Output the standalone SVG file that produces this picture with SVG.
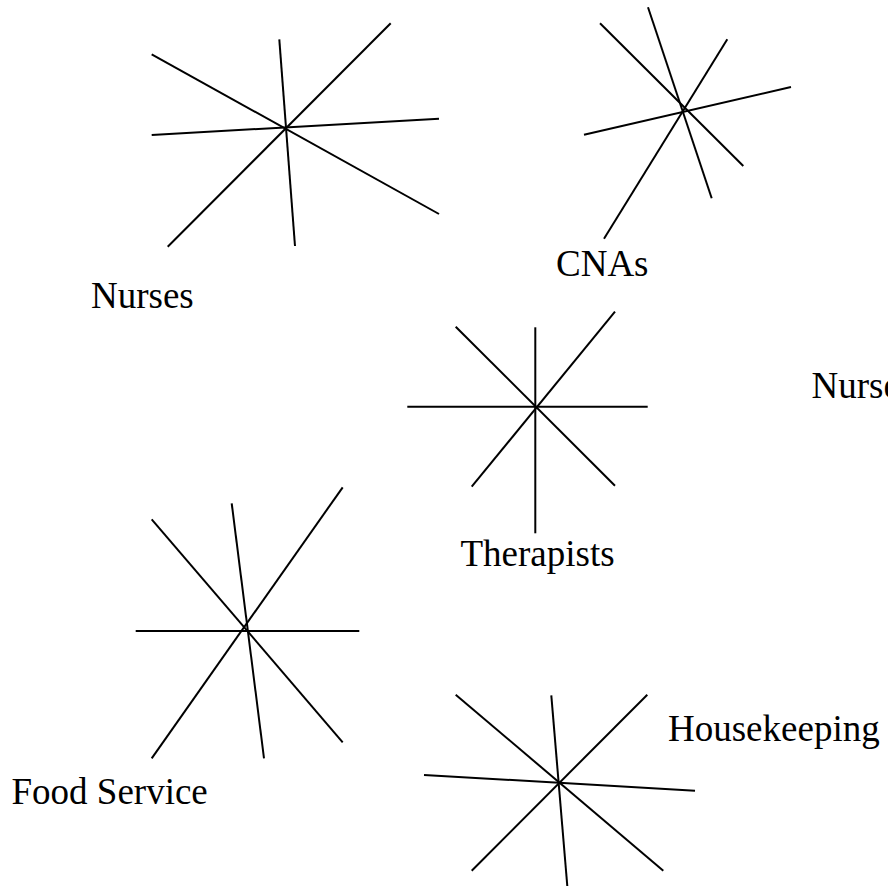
<svg xmlns="http://www.w3.org/2000/svg" width="888" height="887" viewBox="0 0 888 887">
<style>
.ray{stroke:#000;stroke-width:2;fill:none;stroke-linecap:butt}
text{font-family:'Liberation Serif','Times New Roman',serif;font-size:37px;fill:#000}
</style>
<rect width="888" height="887" fill="#fff"/>
<g id="connectors">
<g id="star-nurses">
<line class="ray" x1="151.7" y1="54.3" x2="439" y2="214"/>
<line class="ray" x1="151.7" y1="135" x2="439" y2="118.7"/>
<line class="ray" x1="167.7" y1="246.7" x2="390.7" y2="23.3"/>
<line class="ray" x1="279.3" y1="39.3" x2="295" y2="246"/>
</g>
<g id="star-cnas">
<line class="ray" x1="600" y1="23.3" x2="743.3" y2="166"/>
<line class="ray" x1="648" y1="7.3" x2="711.7" y2="198.3"/>
<line class="ray" x1="727.3" y1="39.3" x2="604" y2="238.7"/>
<line class="ray" x1="584" y1="134.7" x2="791" y2="87"/>
</g>
<g id="star-therapists">
<line class="ray" x1="407.3" y1="406.7" x2="647.7" y2="406.7"/>
<line class="ray" x1="535.3" y1="327.3" x2="535.3" y2="533.3"/>
<line class="ray" x1="455.7" y1="326.7" x2="615" y2="485.7"/>
<line class="ray" x1="615" y1="311.7" x2="471.7" y2="486.7"/>
</g>
<g id="star-food">
<line class="ray" x1="135.7" y1="631" x2="359.3" y2="631"/>
<line class="ray" x1="231.7" y1="503.3" x2="264" y2="758.3"/>
<line class="ray" x1="151.7" y1="519.3" x2="342.7" y2="742.3"/>
<line class="ray" x1="342.7" y1="487.3" x2="151.7" y2="758.3"/>
</g>
<g id="star-housekeeping">
<line class="ray" x1="424" y1="775" x2="695" y2="790.7"/>
<line class="ray" x1="551.3" y1="695.3" x2="567.3" y2="886"/>
<line class="ray" x1="455.7" y1="694.7" x2="663.3" y2="870.7"/>
<line class="ray" x1="647.3" y1="694.7" x2="471.7" y2="870.7"/>
</g>
</g>
<g id="node-nurses"><text x="91" y="308">Nurses</text></g>
<g id="node-cnas"><text x="556" y="276">CNAs</text></g>
<g id="node-nurse-right"><text x="811.5" y="397.5">Nurse</text></g>
<g id="node-therapists"><text x="460.5" y="566">Therapists</text></g>
<g id="node-housekeeping"><text x="668" y="740.5">Housekeeping</text></g>
<g id="node-food"><text x="11.5" y="804">Food Service</text></g>
</svg>
